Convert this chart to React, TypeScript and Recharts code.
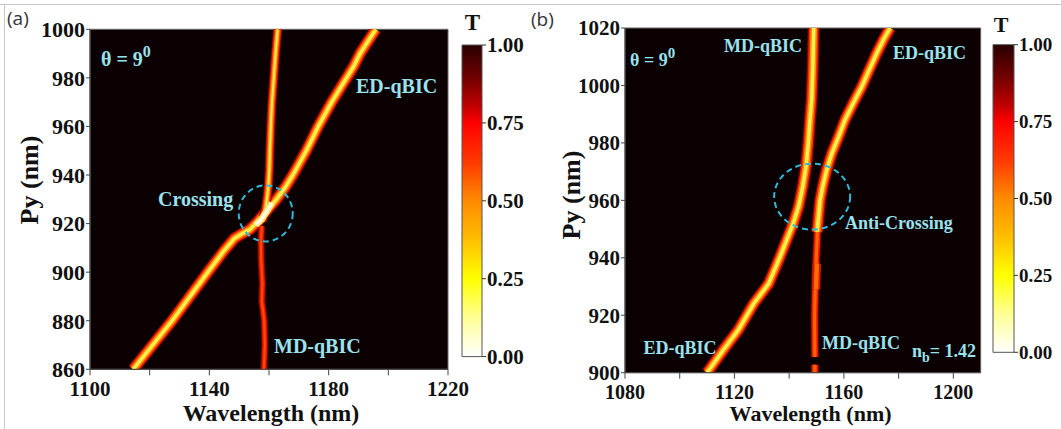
import React from "react";
import {
  ComposedChart, Line, XAxis, YAxis, CartesianGrid, ReferenceArea, ReferenceDot,
  BarChart, Bar,
} from "recharts";

const SERIF = '"Liberation Serif", "Times New Roman", serif';
const BG = "#0c0102";
const CYAN = "#9ae2ee";
const RING = "#2fb9d9";

// ---- panel (a)
const aXTicks = [1100, 1120, 1140, 1160, 1180, 1200, 1220];
const aXLabels = [1100, 1140, 1180, 1220];
const aYTicks = [860, 880, 900, 920, 940, 960, 980, 1000];

const aEdWl = [1114.5, 1121, 1127.5, 1133.5, 1139.5, 1145, 1148.5, 1150.5, 1153.5, 1156, 1159, 1162.5, 1165.5, 1168, 1172.5, 1176.5, 1181, 1186, 1188.5, 1190.5, 1195.8];
const aEdPy = [860, 870, 880, 890, 900, 909, 914, 915.5, 917.5, 920.5, 925, 930, 935, 940, 950, 960, 970, 980, 985, 990, 1000];
const aMdLoWl = [1158.3, 1158.6, 1158.4, 1157.6, 1157.8, 1157.4, 1157.3, 1157.6];
const aMdLoPy = [860, 870, 880, 888, 895, 905, 913, 919];
const aMdUpWl = [1157.8, 1158.8, 1159.4, 1159.8, 1160.1, 1160.3, 1160.6, 1161, 1161.6, 1162.2, 1162.9];
const aMdUpPy = [921, 926, 931, 936, 942, 950, 960, 970, 980, 990, 1000];
const aHotWl = [1155.5, 1157.3, 1159.5, 1161];
const aHotPy = [919.5, 921.5, 925.5, 928.5];

// ---- panel (b)
const bXTicks = [1080, 1100, 1120, 1140, 1160, 1180, 1200];
const bXLabels = [1080, 1120, 1160, 1200];
const bYTicks = [900, 920, 940, 960, 980, 1000, 1020];

const bLeftWl = [1110, 1116, 1121.5, 1127, 1132.5, 1136.5, 1139, 1141.5, 1143.5, 1145, 1146.2, 1147, 1147.6, 1148.2, 1148.6, 1149];
const bLeftPy = [900, 908, 915, 924, 931, 940, 946, 952, 958, 965, 972, 980, 988, 995, 1005, 1020];
const bRightWl = [1150.2, 1150.7, 1151.3, 1152.3, 1153.7, 1155.6, 1158, 1160.4, 1163.5, 1166.5, 1169.3, 1172, 1174.5, 1176.9];
const bRightPy = [949, 954, 960, 965, 970.6, 976.4, 982, 988, 994, 999.5, 1005.5, 1011.2, 1016, 1020];
const bMdLoWl = [1149.4, 1149.3, 1149.6, 1149.9, 1150.2, 1150.4];
const bMdLoPy = [905.5, 920, 932, 940, 946, 951];
const bMdDotWl = [1149.4, 1149.4];
const bMdDotPy = [900, 902.8];
const bBlobWl = [1149.8, 1150.1];
const bBlobPy = [929, 938];

// ---- colour bar
const cbTicks = [0, 0.25, 0.5, 0.75, 1];
const cbData = [{ k: "T", v: 1 }];
const cbStops: [number, string][] = [
  [0, "#2a0000"], [0.1, "#6e0000"], [0.2, "#c40000"], [0.25, "#ff0000"],
  [0.38, "#ff3c00"], [0.5, "#ff8a00"], [0.62, "#ffbc00"], [0.75, "#ffff00"],
  [0.88, "#ffff9a"], [1, "#ffffff"],
];

const zip = (wl: number[], py: number[]) => wl.map((w, i) => ({ wl: w, py: py[i] }));

const ED = [
  { w: 12, c: "#8a0600" }, { w: 9.5, c: "#ff2a00" }, { w: 6.5, c: "#ff9200" }, { w: 3.5, c: "#ffee50" },
];
const MD_UP = [
  { w: 9, c: "#8a0600" }, { w: 7, c: "#ff2a00" }, { w: 4.5, c: "#ff9a00" }, { w: 2, c: "#ffe860" },
];
const MD_RED = [
  { w: 7, c: "#7a0400" }, { w: 5, c: "#e81600" }, { w: 2.2, c: "#ff4a00" },
];
const MD_RED_B = [
  { w: 8, c: "#7a0400" }, { w: 6, c: "#f02000" }, { w: 3, c: "#ff6400" },
];
const HOT = [{ w: 7, c: "#ffe060" }, { w: 3.5, c: "#ffffe8" }];

function glow(data: { wl: number; py: number }[], id: string, layers: { w: number; c: string }[]) {
  return layers.map((l, i) => (
    <Line
      key={id + i}
      data={data}
      dataKey="py"
      type="linear"
      stroke={l.c}
      strokeWidth={l.w}
      strokeLinejoin="round"
      dot={false}
      activeDot={false}
      isAnimationActive={false}
    />
  ));
}

const tickStyle = (size: number) => ({ fontSize: size, fontWeight: 700, fontFamily: SERIF, fill: "#111" });

function Ring({ cx, cy, rx, ry }: any) {
  return <ellipse cx={cx} cy={cy} rx={rx} ry={ry} fill="none" stroke={RING} strokeWidth={2} strokeDasharray="6 4" />;
}

function ColorBar({ id, left, width, top, bottom, axisW, font }: any) {
  return (
    <div style={{ position: "absolute", left, top: 0 }}>
      <BarChart width={width} height={429} data={cbData} margin={{ top, right: 0, bottom, left: 8 }} barCategoryGap={0}>
        <defs>
          <linearGradient id={id} x1="0" y1="0" x2="0" y2="1">
            {cbStops.map(([o, c]) => <stop key={o} offset={o} stopColor={c} />)}
          </linearGradient>
        </defs>
        <XAxis dataKey="k" hide />
        <YAxis orientation="right" type="number" domain={[0, 1]} ticks={cbTicks} width={axisW}
          tickFormatter={(v: number) => v.toFixed(2)} tick={tickStyle(font)} interval={0}
          axisLine={false} tickSize={4} tickMargin={1} tickLine={{ stroke: "#333" }} />
        <Bar dataKey="v" fill={`url(#${id})`} stroke="#555" strokeWidth={1} isAnimationActive={false} />
      </BarChart>
    </div>
  );
}

export default function App() {
  const aEd = zip(aEdWl, aEdPy);
  const aMdLo = zip(aMdLoWl, aMdLoPy);
  const aMdUp = zip(aMdUpWl, aMdUpPy);
  const aHot = zip(aHotWl, aHotPy);
  const bLeft = zip(bLeftWl, bLeftPy);
  const bRight = zip(bRightWl, bRightPy);
  const bMdLo = zip(bMdLoWl, bMdLoPy);
  const bMdDot = zip(bMdDotWl, bMdDotPy);
  const bBlob = zip(bBlobWl, bBlobPy);

  return (
    <div style={{ position: "absolute", left: 0, top: 0, width: 1061, height: 429, background: "#fff", overflow: "hidden" }}>
      {/* panel (a) */}
      <div style={{ position: "absolute", left: 0, top: 0 }}>
        <ComposedChart width={480} height={429} margin={{ top: 29.3, right: 32, bottom: 29.7, left: 30 }}>
          <CartesianGrid fill={BG} stroke="none" horizontal={false} vertical={false} />
          <XAxis dataKey="wl" type="number" domain={[1100, 1220]} ticks={aXTicks} interval={0} allowDataOverflow
            tickFormatter={(v: number) => (aXLabels.includes(v) ? String(v) : "")}
            tick={tickStyle(21)} tickSize={6} tickMargin={6} height={30} stroke="#444" />
          <YAxis type="number" domain={[860, 1000]} ticks={aYTicks} interval={0} allowDataOverflow
            tick={tickStyle(22)} tickSize={4} tickMargin={1} width={60} stroke="#444" />
          {glow(aEd, "aEd", ED)}
          {glow(aMdLo, "aMdLo", MD_RED)}
          {glow(aMdUp, "aMdUp", MD_UP)}
          {glow(aHot, "aHot", HOT)}
          <ReferenceArea x1={1100} x2={1220} y1={860} y2={1000} fill="none" stroke="#666" />
          <ReferenceDot x={1158.9} y={924.2} r={1} shape={(p: any) => <Ring cx={p.cx} cy={p.cy} rx={27} ry={28} />} />
        </ComposedChart>
      </div>
      <ColorBar id="heatA" left={454} width={80} top={45} bottom={72.4} axisW={52} font={21} />

      {/* panel (b) */}
      <div style={{ position: "absolute", left: 530, top: 0 }}>
        <ComposedChart width={460} height={429} margin={{ top: 28, right: 9.3, bottom: 26.3, left: 35 }}>
          <CartesianGrid fill={BG} stroke="none" horizontal={false} vertical={false} />
          <XAxis dataKey="wl" type="number" domain={[1080, 1210]} ticks={bXTicks} interval={0} allowDataOverflow
            tickFormatter={(v: number) => (bXLabels.includes(v) ? String(v) : "")}
            tick={tickStyle(20)} tickSize={6} tickMargin={6} height={30} stroke="#444" />
          <YAxis type="number" domain={[900, 1020]} ticks={bYTicks} interval={0} allowDataOverflow
            tick={tickStyle(21)} tickSize={4} tickMargin={1} width={60} stroke="#444" />
          {glow(bMdDot, "bMdDot", MD_RED_B)}
          {glow(bMdLo, "bMdLo", MD_RED_B)}
          {glow(bBlob, "bBlob", [{ w: 8.5, c: "#d01800" }, { w: 4.5, c: "#ff6a00" }])}
          {glow(bLeft, "bLeft", ED)}
          {glow(bRight, "bRight", ED)}
          <ReferenceArea x1={1080} x2={1210} y1={900} y2={1020} fill="none" stroke="#666" />
          <ReferenceDot x={1148.4} y={961.3} r={1} shape={(p: any) => <Ring cx={p.cx} cy={p.cy} rx={38} ry={33} />} />
        </ComposedChart>
      </div>
      <ColorBar id="heatB" left={985} width={76} top={44.7} bottom={76.7} axisW={47} font={19} />

      {/* text layer */}
      <svg width={1061} height={429} style={{ position: "absolute", left: 0, top: 0, pointerEvents: "none" }}>
        <line x1={0} y1={4.5} x2={1061} y2={4.5} stroke="#c8c8c8" />
        <line x1={4.5} y1={4.5} x2={4.5} y2={429} stroke="#c8c8c8" />
        <g fontFamily='"Open Sans", "DejaVu Sans", sans-serif' fontSize={19} fill="#333">
          <text x={7} y={25}>(a)</text>
          <text x={531} y={26}>(b)</text>
        </g>
        <g fontFamily={SERIF} fontWeight={700} fill="#111">
          <text x={472.5} y={30} fontSize={23} textAnchor="middle">T</text>
          <text x={1001} y={32} fontSize={22} textAnchor="middle">T</text>
          <text x={271} y={421} fontSize={24} textAnchor="middle">Wavelength (nm)</text>
          <text x={810.6} y={421} fontSize={22} textAnchor="middle">Wavelength (nm)</text>
          <text transform="translate(38,180) rotate(-90)" fontSize={26} textAnchor="middle">Py (nm)</text>
          <text transform="translate(580,195) rotate(-90)" fontSize={26} textAnchor="middle">Py (nm)</text>
        </g>
        <g fontFamily={SERIF} fontWeight={700} fill={CYAN}>
          <text x={101} y={66} fontSize={20}>θ = 9<tspan dy={-9} fontSize={16}>0</tspan></text>
          <text x={356} y={93} fontSize={20}>ED-qBIC</text>
          <text x={158} y={206} fontSize={20}>Crossing</text>
          <text x={274} y={353} fontSize={20}>MD-qBIC</text>
          <text x={630} y={66} fontSize={18}>θ = 9<tspan dy={-8} fontSize={15}>0</tspan></text>
          <text x={724} y={52} fontSize={18}>MD-qBIC</text>
          <text x={893} y={59} fontSize={18}>ED-qBIC</text>
          <text x={845} y={229} fontSize={18}>Anti-Crossing</text>
          <text x={643.5} y={354} fontSize={18}>ED-qBIC</text>
          <text x={822} y={349} fontSize={18}>MD-qBIC</text>
          <text x={912} y={357} fontSize={18}>n<tspan dy={5} fontSize={14}>b</tspan><tspan dy={-5}>= 1.42</tspan></text>
        </g>
      </svg>
    </div>
  );
}
